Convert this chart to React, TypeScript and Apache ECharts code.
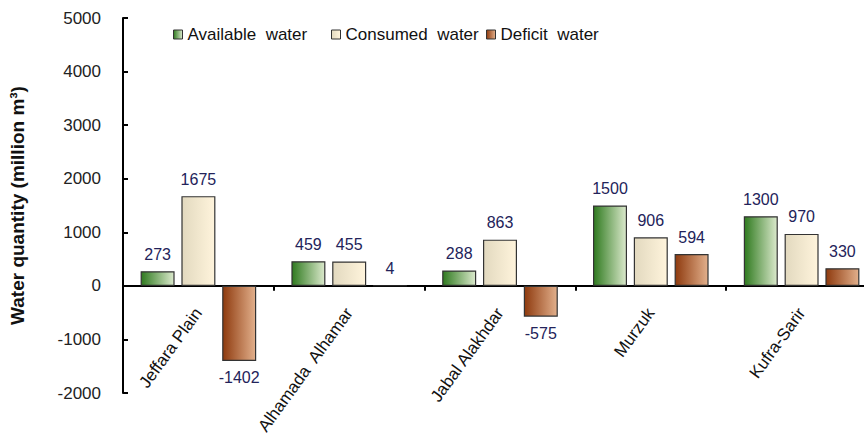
import React, { useEffect, useRef } from "react";
import * as echarts from "echarts";

const categories = ["Jeffara Plain", "Alhamada  Alhamar", "Jabal Alakhdar", "Murzuk", "Kufra-Sarir"];
const availableWater = [273, 459, 288, 1500, 1300];
const consumedWater = [1675, 455, 863, 906, 970];
const deficitWater = [-1402, 4, -575, 594, 330];
const seriesNames = ["Available  water", "Consumed  water", "Deficit  water"];
const yMin = -2000;
const yMax = 5000;
const yInterval = 1000;

const FONT = "'Liberation Sans', Arial, sans-serif";
const GRID_TOP = 18;
const GRID_BOTTOM = 41;
const H = 434;

function grad(a: string, b: string) {
  return new echarts.graphic.LinearGradient(0, 0, 1, 0, [
    { offset: 0, color: a },
    { offset: 1, color: b },
  ]);
}

function toData(vals: number[]) {
  return vals.map((v) => ({
    value: v,
    label: { position: v < 0 ? "bottom" : "top" },
  }));
}

export default function App() {
  const ref = useRef<HTMLDivElement>(null);
  useEffect(() => {
    if (!ref.current) return;
    const chart = echarts.init(ref.current, undefined, { renderer: "svg" });
    const colors = [
      grad("#2f7a1f", "#dbe9cc"),
      grad("#e2d9bf", "#fff4dc"),
      grad("#8e3a0e", "#e2b08c"),
    ];
    const label = {
      show: true,
      distance: 9,
      fontFamily: FONT,
      fontSize: 16,
      color: "#23235a",
    };
    const mk = (name: string, vals: number[], i: number) => ({
      name,
      type: "bar",
      data: toData(vals),
      barWidth: 34,
      barGap: "20%",
      itemStyle: { color: colors[i], borderColor: "#333", borderWidth: 1.2 },
      label,
    });
    const plotH = H - GRID_TOP - GRID_BOTTOM;
    const zeroFromBottom = (plotH * (0 - yMin)) / (yMax - yMin);
    const legendLefts = [168, 326, 481];
    chart.setOption({
      animation: false,
      backgroundColor: "#fff",
      legend: seriesNames.map((n, i) => ({
        top: 21,
        left: legendLefts[i],
        itemWidth: 9,
        itemHeight: 9,
        itemGap: 0,
        icon: "rect",
        textStyle: { fontFamily: FONT, fontSize: 17, color: "#111" },
        data: [{ name: n, itemStyle: { borderColor: "#333", borderWidth: 1 } }],
      })),
      grid: {
        left: 123,
        top: GRID_TOP,
        bottom: GRID_BOTTOM,
        width: 754,
        containLabel: false,
        outerBoundsMode: "none",
      },
      xAxis: {
        type: "category",
        data: categories,
        position: "bottom",
        offset: -zeroFromBottom,
        axisLine: { onZero: false, lineStyle: { color: "#000", width: 2 } },
        axisTick: { show: true, inside: false, length: 5, lineStyle: { color: "#000", width: 2 } },
        axisLabel: {
          rotate: 54,
          margin: 24,
          fontFamily: FONT,
          fontSize: 17,
          color: "#111",
          interval: 0,
        },
        splitLine: { show: false },
      },
      yAxis: {
        type: "value",
        min: yMin,
        max: yMax,
        interval: yInterval,
        name: "Water quantity (million m³)",
        nameLocation: "middle",
        nameGap: 96,
        nameTextStyle: { fontFamily: FONT, fontSize: 19, fontWeight: "bold", color: "#111" },
        axisLine: { show: true, lineStyle: { color: "#000", width: 2 } },
        axisTick: { show: true, inside: true, length: 5, lineStyle: { color: "#000", width: 2 } },
        axisLabel: {
          margin: 22,
          fontFamily: FONT,
          fontSize: 17,
          color: "#222",
          formatter: (v: number) => String(v),
        },
        splitLine: { show: false },
      },
      series: [
        mk(seriesNames[0], availableWater, 0),
        mk(seriesNames[1], consumedWater, 1),
        mk(seriesNames[2], deficitWater, 2),
      ],
    });
    return () => chart.dispose();
  }, []);
  return <div ref={ref} style={{ width: 864, height: 434, position: "absolute", left: 0, top: 0 }} />;
}
